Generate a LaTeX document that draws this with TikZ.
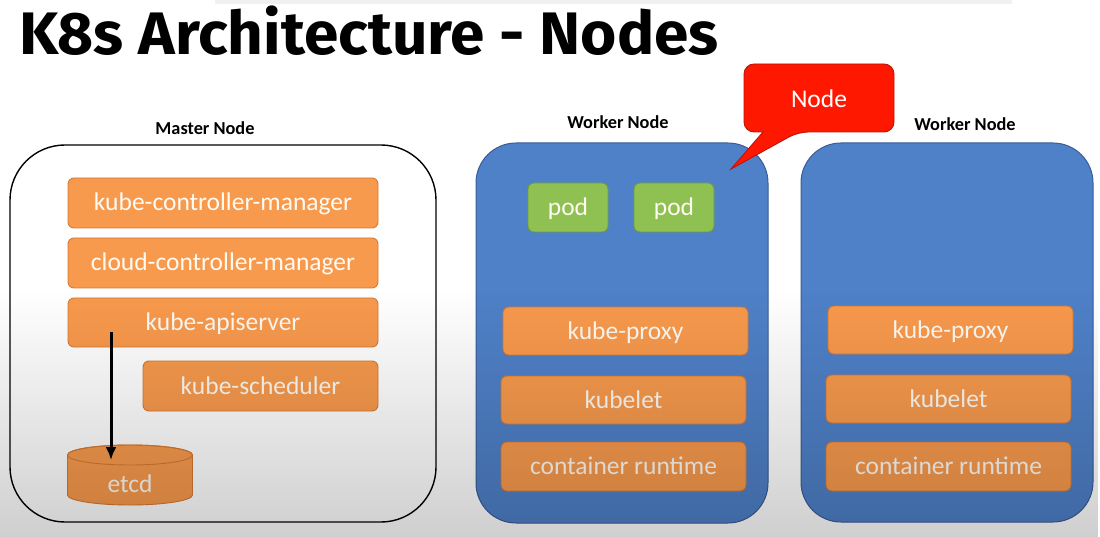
\documentclass[tikz,border=0pt]{standalone}
\usepackage{fontspec}
\setmainfont{Carlito}
\newfontfamily\titlefont{Fira Sans}
\usetikzlibrary{fadings,arrows.meta}
\definecolor{orfill}{RGB}{248,154,77}
\definecolor{orline}{RGB}{212,122,52}
\definecolor{bluefill}{RGB}{79,129,200}
\definecolor{blueline}{RGB}{58,92,150}
\definecolor{grfill}{RGB}{143,192,82}
\definecolor{grline}{RGB}{112,156,62}
\definecolor{redfill}{RGB}{255,24,0}
\definecolor{redline}{RGB}{185,20,10}
\definecolor{txtw}{RGB}{255,250,242}
\tikzfading[name=fadedown, top color=transparent!100, bottom color=transparent!0]
\begin{document}
\begin{tikzpicture}[x=1pt,y=-1pt,
  lbl/.style={text height=19pt, text depth=3pt, inner sep=0pt, font=\fontsize{25.5}{28}\selectfont},
  comp/.style={lbl, draw=orline, fill=orfill, rounded corners=6, line width=0.9pt, text=txtw},
  podbox/.style={lbl, draw=grline, fill=grfill, rounded corners=6, line width=0.9pt, text=txtw,
    minimum width=80, minimum height=49},
  worker/.style={draw=blueline, fill=bluefill, rounded corners=40, line width=1pt,
    inner sep=0pt, minimum width=292, minimum height=380},
  master/.style={draw=black, rounded corners=55, line width=1.4pt,
    inner sep=0pt, minimum width=426, minimum height=377},
  heading/.style={font=\bfseries\fontsize{18.3}{20}\selectfont, text=black, inner sep=0pt},
  arrowline/.style={line width=3pt, -{Latex[length=13pt,width=11pt]}}
]
\useasboundingbox (0,0) rectangle (1100,537);
\fill[white] (0,0) rectangle (1100,537);
\fill[black!6] (215,0) rectangle (1012,4);

% title
\node[anchor=base west, inner sep=0pt, font=\titlefont\bfseries\fontsize{60}{62}\selectfont] (title) at (19,55) {\scalebox{1.035}[1]{K8s Architecture - Nodes}};

% master node
\node[heading] (mlabel) at (205,128) {Master Node};
\node[master] (mbox) at (223,333.5) {};
\node[comp, minimum width=310, minimum height=50] (kcm) at (223,203) {kube-controller-manager};
\node[comp, minimum width=310, minimum height=50] (ccm) at (223,263) {cloud-controller-manager};
\node[comp, minimum width=310, minimum height=49] (api) at (223,322.5) {kube-apiserver};
\node[comp, minimum width=235, minimum height=50] (sch) at (260.5,386) {kube-scheduler};
% etcd cylinder
\filldraw[draw=orline, fill=orfill, line width=0.9pt]
  (67.5,455) -- (67.5,495) arc[start angle=180, end angle=0, x radius=62.5, y radius=10]
  -- (192.5,455) arc[start angle=0, end angle=-180, x radius=62.5, y radius=10] -- cycle;
\draw[orline, line width=0.9pt] (130,455) ellipse[x radius=62.5, y radius=10];
\node[lbl, text=txtw] (etcd) at (130,484) {etcd};
\coordinate (arrS) at (111,332);
\coordinate (arrE) at (111,460);
\draw[arrowline] (arrS) -- (arrE);

% worker 1
\node[heading] (w1label) at (618,122) {Worker Node};
\node[worker] (w1) at (622,333) {};
\node[podbox] (pod1) at (568,207.5) {pod};
\node[podbox] (pod2) at (674,207.5) {pod};
\node[comp, minimum width=245, minimum height=48] (w1proxy) at (625.5,331) {kube-proxy};
\node[comp, minimum width=245, minimum height=48] (w1let) at (623.5,400) {kubelet};
\node[comp, minimum width=245, minimum height=49] (w1rt) at (623.5,466.5) {container runtime};

% worker 2
\node[heading] (w2label) at (965,124) {Worker Node};
\node[worker, minimum height=379] (w2) at (947,332.5) {};
\node[comp, minimum width=245, minimum height=48] (w2proxy) at (950.5,330) {kube-proxy};
\node[comp, minimum width=245, minimum height=48] (w2let) at (948.5,399) {kubelet};
\node[comp, minimum width=245, minimum height=49] (w2rt) at (948.5,466.5) {container runtime};

% callout
\filldraw[draw=redline, fill=redfill, line width=0.9pt]
  (744,98) [rounded corners=10] -- (744,64) -- (894,64) -- (894,132) -- (798,132)
  [sharp corners] -- (731,169) -- (763,132) [rounded corners=10] -- (744,132) -- cycle;
\node[lbl, text=white] (callout) at (819,100) {Node};

% bottom gradient overlay
\fill[black, fill opacity=0.19, path fading=fadedown] (0,290) rectangle (1100,537);
\end{tikzpicture}
\end{document}
